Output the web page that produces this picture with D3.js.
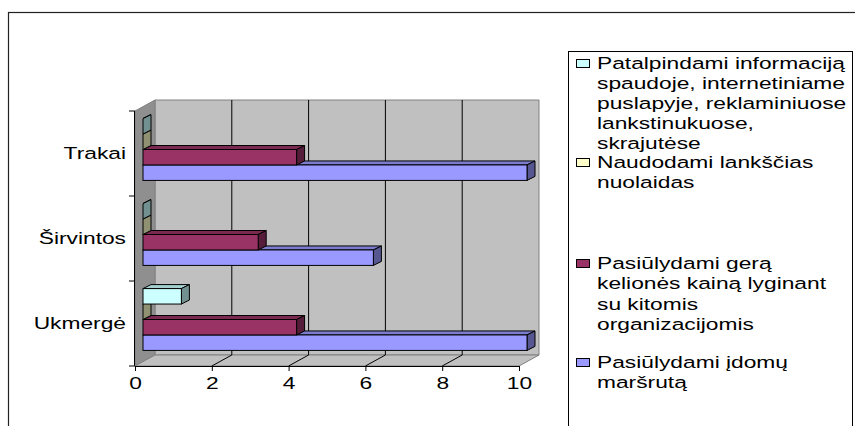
<!DOCTYPE html>
<html lang="lt">
<head>
<meta charset="utf-8">
<title>Turizmo organizacijos</title>
<script src="https://d3js.org/d3.v7.min.js"></script>
<style>
	body {
		margin: 0;
		background: #fff;
	}
	svg text {
		font-family: "Liberation Sans", Arial, Helvetica, sans-serif;
		font-size: 17px;
		fill: #000;
	}
</style>
</head>
<body>
<script>
	// categories, top to bottom as drawn
	var categories = ["Trakai", "Širvintos", "Ukmergė"];
	var xTicks = [0, 2, 4, 6, 8, 10];

	// series in legend order (also top to bottom inside each category)
	var seriesNames = [
		"Patalpindami informaciją spaudoje, internetiniame puslapyje, reklaminiuose lankstinukuose, skrajutėse",
		"Naudodami lankščias nuolaidas",
		"Pasiūlydami gerą kelionės kainą lyginant su kitomis organizacijomis",
		"Pasiūlydami įdomų maršrutą"
	];
	var legendLines = [
		["Patalpindami informaciją", "spaudoje, internetiniame", "puslapyje, reklaminiuose", "lankstinukuose,", "skrajutėse"],
		["Naudodami lankščias", "nuolaidas"],
		["Pasiūlydami gerą", "kelionės kainą lyginant", "su kitomis", "organizacijomis"],
		["Pasiūlydami įdomų", "maršrutą"]
	];
	var seriesColors = ["#CCFFFF", "#FFFFCC", "#993366", "#9999FF"];

	// values per category: Trakai, Širvintos, Ukmergė
	var informacija = [0, 0, 1];
	var nuolaidos = [0, 0, 0];
	var kaina = [4, 3, 4];
	var marsrutas = [10, 6, 10];
	var seriesValues = [informacija, nuolaidos, kaina, marsrutas];

	//layout
	var w = 855, h = 426;
	var stretch = 1.34;               // text is drawn wide in the original
	var depth = { x: 20, y: -11 };     // wall depth
	var barShift = { x: 8, y: -4 };    // bars sit a bit inside the depth
	var barDepth = { x: 8, y: -4 };
	var legendY = [63, 162, 263, 362];
	var lineH = [20, 20.5, 20.5, 20.5];

	var x = d3.scaleLinear().domain([0, 10]).range([135, 519]);
	var y = d3.scaleBand().domain(categories).range([111, 366]);
	var ys = d3.scaleBand().domain(d3.range(seriesNames.length))
		.range([0, y.bandwidth()]).paddingInner(0).paddingOuter(0.75);

	var svg = d3.select("body").append("svg")
		.attr("width", w)
		.attr("height", h);

	// outer frame
	svg.append("rect")
		.attr("x", 8.5).attr("y", 12.5)
		.attr("width", 900).attr("height", 500)
		.attr("fill", "none").attr("stroke", "#222").attr("stroke-width", 1.2);

	var x0 = x(0), x1 = x(10), y0 = y.range()[0], y1 = y.range()[1];
	function pts(a) { return a.map(function (p) { return p.join(","); }).join(" "); }

	// walls and floor
	svg.append("polygon")
		.attr("points", pts([[x0 + depth.x, y0 + depth.y], [x1 + depth.x, y0 + depth.y], [x1 + depth.x, y1 + depth.y], [x0 + depth.x, y1 + depth.y]]))
		.attr("fill", "#C0C0C0").attr("stroke", "#808080");
	svg.append("polygon")
		.attr("points", pts([[x0, y0], [x0 + depth.x, y0 + depth.y], [x0 + depth.x, y1 + depth.y], [x0, y1]]))
		.attr("fill", "#8F8F8F").attr("stroke", "#808080");
	svg.append("polygon")
		.attr("points", pts([[x0, y1], [x0 + depth.x, y1 + depth.y], [x1 + depth.x, y1 + depth.y], [x1, y1]]))
		.attr("fill", "#C0C0C0").attr("stroke", "#808080");

	// gridlines on back wall + floor
	var inner = xTicks.filter(function (d) { return d > 0 && d < 10; });
	svg.selectAll(".grid").data(inner).enter().append("line")
		.attr("class", "grid")
		.attr("x1", function (d) { return x(d) + depth.x; })
		.attr("x2", function (d) { return x(d) + depth.x; })
		.attr("y1", y0 + depth.y).attr("y2", y1 + depth.y)
		.attr("stroke", "#000").attr("stroke-width", 1);
	svg.selectAll(".floorline").data(inner).enter().append("line")
		.attr("class", "floorline")
		.attr("x1", function (d) { return x(d); })
		.attr("x2", function (d) { return x(d) + depth.x; })
		.attr("y1", y1).attr("y2", y1 + depth.y)
		.attr("stroke", "#000").attr("stroke-width", 1);

	// bars, bottom series first so upper boxes sit over lower top faces
	var bars = [];
	categories.forEach(function (c, ci) {
		for (var s = seriesNames.length - 1; s >= 0; s--) {
			bars.push({ cat: c, s: s, v: seriesValues[s][ci] });
		}
	});

	var g = svg.selectAll(".bar").data(bars).enter().append("g").attr("class", "bar");
	function geom(d) {
		var top = y(d.cat) + ys(d.s) + barShift.y;
		return { l: x(0) + barShift.x, r: x(d.v) + barShift.x, t: top, b: top + ys.bandwidth() };
	}
	g.append("polygon")
		.attr("points", function (d) {
			var q = geom(d);
			return pts([[q.l, q.t], [q.r, q.t], [q.r + barDepth.x, q.t + barDepth.y], [q.l + barDepth.x, q.t + barDepth.y]]);
		})
		.attr("fill", function (d) { return d3.color(seriesColors[d.s]).darker(0.6); })
		.attr("stroke", "#000").attr("stroke-linejoin", "round");
	g.append("polygon")
		.attr("points", function (d) {
			var q = geom(d);
			return pts([[q.r, q.t], [q.r + barDepth.x, q.t + barDepth.y], [q.r + barDepth.x, q.b + barDepth.y], [q.r, q.b]]);
		})
		.attr("fill", function (d) { return d3.color(seriesColors[d.s]).darker(1.6); })
		.attr("stroke", "#000").attr("stroke-linejoin", "round");
	g.append("rect")
		.attr("x", function (d) { return geom(d).l; })
		.attr("y", function (d) { return geom(d).t; })
		.attr("width", function (d) { var q = geom(d); return q.r - q.l; })
		.attr("height", ys.bandwidth())
		.attr("fill", function (d) { return seriesColors[d.s]; })
		.attr("stroke", "#000");

	// bottom axis
	var xAxis = d3.axisBottom(x).tickValues(xTicks).tickSizeInner(5).tickSizeOuter(0).tickPadding(6);
	var gx = svg.append("g")
		.attr("transform", "translate(0," + y1 + ")")
		.call(xAxis);
	gx.select(".domain").attr("stroke", "#000");
	gx.selectAll("text")
		.attr("font-size", null).attr("font-family", null)
		.attr("transform", "scale(" + stretch + ",1)");

	// left axis: line, ticks on band edges, labels in band centres
	var edges = categories.map(function (c) { return y(c); }).concat([y1]);
	svg.append("line")
		.attr("x1", x0 - 0.5).attr("x2", x0 - 0.5)
		.attr("y1", y0).attr("y2", y1)
		.attr("stroke", "#000");
	svg.selectAll(".ytick").data(edges).enter().append("line")
		.attr("class", "ytick")
		.attr("x1", x0 - 6).attr("x2", x0)
		.attr("y1", function (d) { return d; }).attr("y2", function (d) { return d; })
		.attr("stroke", "#000");
	svg.selectAll(".ylab").data(categories).enter().append("text")
		.attr("class", "ylab")
		.attr("text-anchor", "end")
		.attr("dy", "0.35em")
		.attr("transform", function (d) {
			return "translate(" + (x0 - 9) + "," + (y(d) + y.bandwidth() / 2) + ") scale(" + stretch + ",1)";
		})
		.text(function (d) { return d; });

	// legend
	svg.append("rect")
		.attr("x", 568.5).attr("y", 51.5)
		.attr("width", 284).attr("height", 400)
		.attr("fill", "#fff").attr("stroke", "#000");

	var lg = svg.selectAll(".legend").data(seriesNames).enter().append("g")
		.attr("class", "legend")
		.attr("transform", function (d, i) { return "translate(576," + legendY[i] + ")"; });
	lg.append("rect")
		.attr("x", 0.5).attr("y", -3.5)
		.attr("width", 13).attr("height", 8)
		.attr("fill", function (d, i) { return seriesColors[i]; })
		.attr("stroke", "#000");
	lg.each(function (d, i) {
		d3.select(this).selectAll("text").data(legendLines[i]).enter().append("text")
			.attr("dy", "0.35em")
			.attr("transform", function (t, j) { return "translate(21," + (j * lineH[i]) + ") scale(" + stretch + ",1)"; })
			.text(function (t) { return t; });
	});
</script>
</body>
</html>
